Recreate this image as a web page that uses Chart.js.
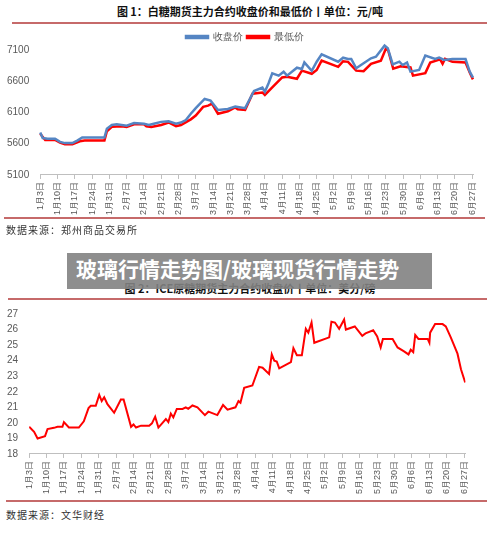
<!DOCTYPE html>
<html>
<head>
<meta charset="utf-8">
<script src="https://cdn.jsdelivr.net/npm/chart.js@4"></script>
<style>
  body { margin: 0; background: #fff; font-family: "Noto Sans CJK SC", sans-serif; }
  #page { position: relative; width: 500px; height: 543px; overflow: hidden; }
  .title { position: absolute; left: 0; width: 500px; text-align: center; font-size: 11px; font-weight: bold; color: #111; }
  .rule { position: absolute; height: 2px; background: #c66a6a; }
  .source { position: absolute; left: 6px; font-size: 10px; color: #333; letter-spacing: 1px; }
  .box { position: absolute; }
  #banner { position: absolute; left: 67px; top: 253px; width: 365px; height: 36px; background: rgba(130,130,130,0.9);
            color: #fff; font-weight: bold; font-size: 21px; line-height: 31px; padding-left: 9px; box-sizing: border-box; }
</style>
</head>
<body>
<div id="page">
  <div class="title" style="top:3px">图 1：白糖期货主力合约收盘价和最低价丨单位：元/吨</div>
  <div class="rule" style="left:12px;width:475px;top:22px"></div>
  <div class="box" style="left:0;top:28px;width:486px;height:190px"><canvas id="sugarChart"></canvas></div>
  <div class="rule" style="left:4px;width:481px;top:217px"></div>
  <div class="source" style="top:222px">数据来源：郑州商品交易所</div>

  <div class="title" style="top:280px">图 2：ICE原糖期货主力合约收盘价丨单位：美分/磅</div>
  <div class="rule" style="left:8px;width:479px;top:298px"></div>
  <div class="box" style="left:0;top:305px;width:478px;height:192px"><canvas id="iceChart"></canvas></div>
  <div class="rule" style="left:6px;width:481px;top:500px"></div>
  <div class="source" style="top:507px">数据来源：文华财经</div>
  <div id="banner">玻璃行情走势图/玻璃现货行情走势</div>
</div>
<script>
// weekly tick labels (every 7 days from 1月3日)
const tickLabels = ['1月3日','1月10日','1月17日','1月24日','1月31日','2月7日','2月14日','2月21日','2月28日',
  '3月7日','3月14日','3月21日','3月28日','4月4日','4月11日','4月18日','4月25日','5月2日','5月9日',
  '5月16日','5月23日','5月30日','6月6日','6月13日','6月20日','6月27日'];

// Zhengzhou sugar close (收盘价): day offset from 1月3日, value
const closeDays = [0,1,3,6,8,10,13,15,17,26,27,29,31,35,38,42,44,46,49,52,55,57,59,61,63,66.6,69,72,76,79,83,86.6,90,91,92.5,94,96.6,98.6,100,104,106,107,110,112,114,120.7,122.7,124.7,126,128,131,134,136,139.5,140.8,142.8,145.5,146.8,148.6,150,153.5,156,160,161.6,163.6,167,172.3,174,175.3];
const closeVals = [5780,5690,5680,5680,5630,5610,5610,5650,5700,5700,5840,5900,5910,5890,5930,5920,5900,5920,5950,5960,5920,5940,5980,6080,6170,6316,6290,6140,6155,6195,6170,6444,6500,6433,6567,6727,6690,6753,6690,6817,6796,6900,6765,6913,7030,6913,6977,6956,6956,6807,6887,6967,6993,7170,7127,6870,6913,6860,6900,6753,6780,7010,6956,6977,6940,6956,6956,6753,6657];

// Zhengzhou sugar low (最低价)
const lowDays = [0,2,6,8,10,13,16,18,26,27,29,33,35,38,42,43,45,49,52,55,57,61,63,66,68,69.6,72,76,79,80,83,86,90,91,94,98,100,104,106,110,112,114,120.7,122.7,124.7,128,131,134,138,140,141,143,146,150,151,156,158,162,163,164,167,172.3,174,175.3];
const lowVals = [5760,5660,5660,5620,5590,5590,5640,5650,5650,5800,5870,5880,5870,5910,5910,5880,5870,5900,5940,5880,5900,5990,6050,6190,6210,6240,6080,6120,6180,6150,6140,6400,6420,6380,6500,6660,6670,6640,6770,6720,6780,6930,6830,6920,6910,6770,6760,6880,6930,7120,7090,6800,6840,6820,6690,6730,6900,6950,6880,6960,6910,6900,6740,6630];

// ICE raw sugar close
const iceDays = [0,2,3.4,6.4,7.4,10,11.4,13.4,14,16,20,22,23.9,24.8,26.8,28.2,29.2,30.2,31.5,34.2,36.9,38,41,42,43,45,48.3,49.4,50.7,52,55,56,57,58,59.4,61.7,63,64,65.7,67.7,70.7,72.1,75.7,78,79.8,83,84.2,85,86.5,89.8,92.5,93.9,96.5,97.6,98.6,99.6,100.6,105.3,106.3,107.7,109.7,111.3,112.3,113.6,114.7,120.7,121.6,123,124.7,126.7,127.4,131,134,135.3,138.4,140,141.4,142.3,146.2,148.2,150.8,152.6,153.5,154.5,155.3,156.6,160.3,161,161.3,163.3,166.3,167.6,169.6,172.3,173.7,175.4];
const iceVals = [19.75,19.42,19.0,19.15,19.6,19.68,19.75,19.75,20.05,19.7,19.7,20.1,20.95,21.1,21.1,21.8,21.4,21.65,21.2,20.65,21.5,21.5,19.75,19.9,19.7,19.82,19.82,19.97,20.4,19.7,20.25,20.05,20.6,20.35,20.9,20.9,21.0,20.9,21.12,21.0,20.5,20.72,20.5,21.15,20.85,21.0,21.4,21.3,22.25,22.4,23.6,23.55,23.15,24.4,24.0,23.95,23.5,23.9,24.8,24.35,24.35,26.05,25.8,26.45,25.15,25.5,26.5,26.45,26.05,26.65,26.0,26.2,25.6,25.75,25.95,25.55,24.85,25.4,25.4,24.85,24.6,24.4,24.7,24.55,25.65,25.4,25.4,25.15,25.8,26.35,26.35,26.2,25.5,24.45,23.45,22.6];

const pts = (d, v) => d.map((x, i) => ({ x: x, y: v[i] }));

function xScale() {
  return {
    type: 'linear', min: 0, max: 175.5,
    afterBuildTicks: function(axis) {
      axis.ticks = tickLabels.map((_, i) => ({ value: i * 7 }));
    },
    ticks: {
      minRotation: 90, maxRotation: 90, autoSkip: false, color: '#595959',
      font: { size: 9 },
      callback: v => tickLabels[Math.round(v / 7)]
    },
    grid: { drawOnChartArea: false, color: '#bfbfbf', tickLength: 4 },
    border: { color: '#bfbfbf' }
  };
}

// Show first legend item a bit wider apart like the original
const legendSpacing = {
  id: 'legendSpacing',
  beforeInit(chart) {
    const fit = chart.legend.fit;
    chart.legend.fit = function() { fit.bind(chart.legend)(); this.height -= 2; };
  }
};

new Chart(document.getElementById('sugarChart'), {
  type: 'line',
  data: {
    datasets: [
      { label: '收盘价', data: pts(closeDays, closeVals), borderColor: '#5585c3', backgroundColor: '#5585c3', borderWidth: 2.5, pointRadius: 0, tension: 0, clip: false },
      { label: '最低价', data: pts(lowDays, lowVals), borderColor: '#ff0000', backgroundColor: '#ff0000', borderWidth: 2.5, pointRadius: 0, tension: 0, clip: false }
    ]
  },
  options: {
    responsive: true, maintainAspectRatio: false, animation: false,
    layout: { padding: { left: 4, right: 0, top: 0 } },
    plugins: {
      legend: { position: 'top', labels: { boxWidth: 22, boxHeight: 2, color: '#595959', font: { size: 10 }, padding: 4 } },
      tooltip: { enabled: false }
    },
    scales: {
      x: xScale(),
      y: {
        min: 5100, max: 7100,
        ticks: { stepSize: 500, color: '#595959', font: { size: 10 }, callback: v => String(v) },
        grid: { display: false }, border: { display: false }
      }
    }
  },
  plugins: [legendSpacing]
});

new Chart(document.getElementById('iceChart'), {
  type: 'line',
  data: {
    datasets: [
      { label: 'ICE原糖', data: pts(iceDays, iceVals), borderColor: '#ff0000', borderWidth: 2, pointRadius: 0, tension: 0 }
    ]
  },
  options: {
    responsive: true, maintainAspectRatio: false, animation: false,
    layout: { padding: { left: 4, top: 6 } },
    plugins: { legend: { display: false }, tooltip: { enabled: false } },
    scales: {
      x: xScale(),
      y: {
        min: 18, max: 27,
        ticks: { stepSize: 1, color: '#595959', font: { size: 10 } },
        grid: { display: false }, border: { display: false }
      }
    }
  }
});
</script>
</body>
</html>
